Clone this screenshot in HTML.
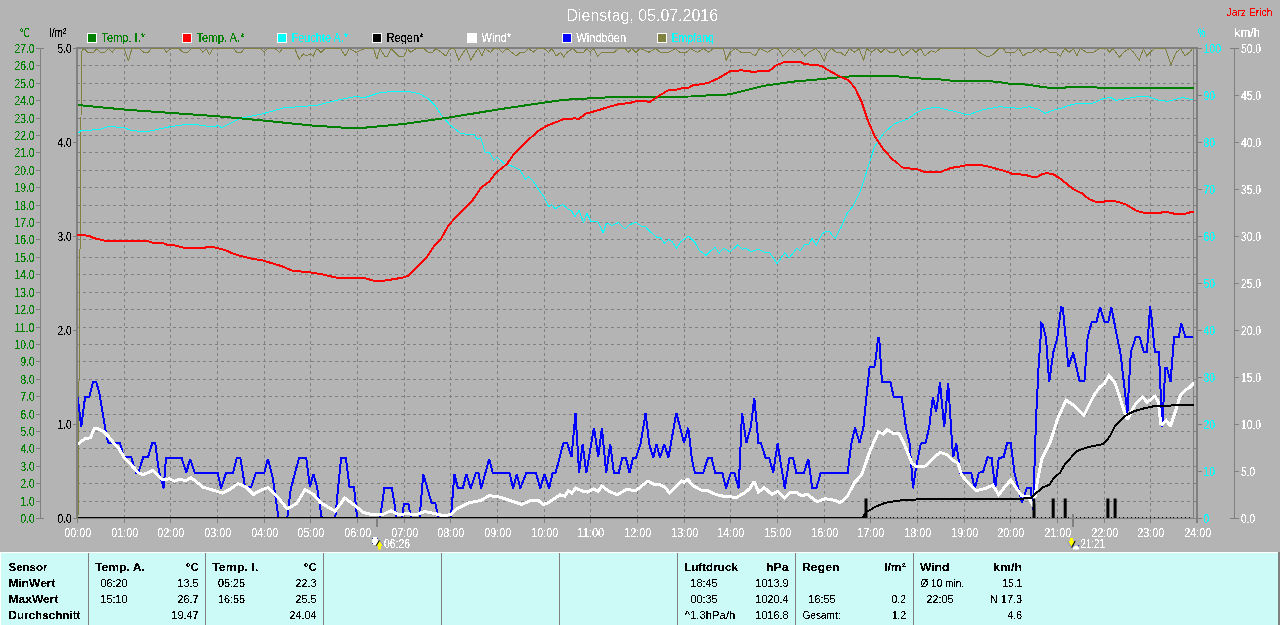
<!DOCTYPE html>
<html><head><meta charset="utf-8"><title>Dienstag, 05.07.2016</title>
<style>
html,body{margin:0;padding:0;background:#b4b4b4;}
body{width:1280px;height:625px;overflow:hidden;}
svg{display:block;font-family:'Liberation Sans', Arial, sans-serif;}
</style></head>
<body>
<svg width="1280" height="625" viewBox="0 0 1280 625">
<rect x="0" y="0" width="1280" height="625" fill="#b4b4b4"/>
<clipPath id="legclip"><rect x="0" y="0" width="1280" height="44"/></clipPath>
<path d="M78 501.5H1196 M78 483.5H1196 M78 466.5H1196 M78 448.5H1196 M78 431.5H1196 M78 414.5H1196 M78 396.5H1196 M78 379.5H1196 M78 361.5H1196 M78 344.5H1196 M78 327.5H1196 M78 309.5H1196 M78 292.5H1196 M78 274.5H1196 M78 257.5H1196 M78 239.5H1196 M78 222.5H1196 M78 205.5H1196 M78 187.5H1196 M78 170.5H1196 M78 152.5H1196 M78 135.5H1196 M78 118.5H1196 M78 100.5H1196 M78 83.5H1196 M78 65.5H1196" stroke="#808080" stroke-width="1" stroke-dasharray="3 3" stroke-dashoffset="1" fill="none"/>
<path d="M124.5 48V517 M170.5 48V517 M217.5 48V517 M264.5 48V517 M310.5 48V517 M357.5 48V517 M404.5 48V517 M450.5 48V517 M497.5 48V517 M544.5 48V517 M590.5 48V517 M637.5 48V517 M684.5 48V517 M730.5 48V517 M777.5 48V517 M824.5 48V517 M870.5 48V517 M917.5 48V517 M964.5 48V517 M1010.5 48V517 M1057.5 48V517 M1104.5 48V517 M1150.5 48V517" stroke="#808080" stroke-width="1" stroke-dasharray="3 3" stroke-dashoffset="1" fill="none"/>
<path d="M77.5 519V523 M124.5 519V523 M170.5 519V523 M217.5 519V523 M264.5 519V523 M310.5 519V523 M357.5 519V523 M404.5 519V523 M450.5 519V523 M497.5 519V523 M544.5 519V523 M590.5 519V523 M637.5 519V523 M684.5 519V523 M730.5 519V523 M777.5 519V523 M824.5 519V523 M870.5 519V523 M917.5 519V523 M964.5 519V523 M1010.5 519V523 M1057.5 519V523 M1104.5 519V523 M1150.5 519V523" stroke="#808080" stroke-width="1" fill="none"/>
<rect x="76" y="47" width="1122" height="2" fill="#808080"/>
<rect x="76" y="47" width="2" height="472" fill="#808080"/>
<rect x="1193" y="48" width="1" height="470" fill="#808080"/>
<rect x="1196" y="47" width="2" height="476" fill="#808080"/>
<polyline points="78.0,518.0 81.5,52.0 83.7,48.5 88.0,52.3 93.5,52.3 96.8,48.5 100.1,52.3 104.4,52.3 108.8,48.5 112.1,52.3 115.4,48.5 124.1,48.5 128.5,61.1 131.8,48.5 139.4,48.5 143.8,52.3 148.2,52.3 151.5,48.5 163.5,48.5 166.8,52.3 170.1,48.5 178.8,48.5 183.2,52.3 187.6,52.3 191.9,48.5 199.6,48.5 202.9,52.3 206.2,48.5 209.5,54.9 212.7,48.5 233.5,48.5 236.8,52.3 241.2,52.3 244.5,48.5 260.9,48.5 264.1,52.3 267.4,48.5 275.1,48.5 279.5,52.3 282.7,48.5 294.8,48.5 299.1,59.3 303.5,53.8 306.8,56.0 310.1,53.8 313.4,56.0 316.6,48.5 321.0,52.3 325.4,48.5 340.7,48.5 345.1,56.0 349.5,48.5 356.0,52.3 364.8,48.5 373.5,48.5 376.8,59.3 380.1,48.5 384.4,56.0 387.7,56.0 391.0,48.5 398.7,56.0 404.1,56.0 407.4,48.5 410.7,52.3 416.2,48.5 423.8,48.5 428.2,52.3 432.6,52.3 435.9,48.5 441.3,52.3 445.7,56.0 450.1,48.5 454.4,48.5 458.8,60.4 463.2,52.3 466.5,48.5 470.9,60.4 475.2,52.3 478.5,48.5 481.8,56.0 485.1,48.5 490.5,52.3 493.8,48.5 498.2,48.5 502.6,52.3 507.0,48.5 511.3,52.3 516.8,56.0 520.1,52.3 524.5,52.3 528.8,48.5 533.2,52.3 537.6,48.5 544.1,48.5 548.5,52.3 551.8,48.5 556.2,56.0 560.6,52.3 563.8,57.1 567.1,52.3 572.6,48.5 577.0,52.3 583.5,52.3 586.8,48.5 590.1,52.3 593.4,48.5 597.7,56.0 602.1,52.3 614.1,52.3 618.5,48.5 625.1,48.5 628.4,52.3 631.7,48.5 636.0,52.3 640.4,48.5 649.1,52.3 655.7,48.5 660.1,52.3 668.8,52.3 675.4,48.5 679.8,52.3 686.3,52.3 690.7,48.5 697.3,52.3 703.8,48.5 708.2,52.3 713.7,48.5 723.5,48.5 726.1,60.4 730.1,52.3 735.5,48.5 741.0,52.3 749.8,52.3 755.2,56.0 759.6,48.5 767.3,52.3 773.8,48.5 778.2,48.5 782.6,56.0 787.0,52.3 790.2,48.5 794.6,52.3 799.0,48.5 804.5,56.0 808.8,52.3 815.4,48.5 819.8,52.3 824.1,61.1 827.4,52.3 831.8,48.5 836.2,52.3 840.6,52.3 844.9,56.0 849.3,48.5 854.8,52.3 859.1,48.5 863.5,60.4 866.8,48.5 871.2,52.3 876.6,48.5 881.0,52.3 885.4,48.5 889.8,52.3 894.1,52.3 898.5,48.5 902.9,56.0 907.3,52.3 911.7,48.5 916.0,52.3 920.4,48.5 924.8,56.0 931.3,50.6 935.7,52.3 940.1,48.5 975.1,48.5 981.6,53.8 988.2,57.1 992.6,54.9 999.1,48.5 1003.5,48.5 1005.7,52.3 1014.4,52.3 1018.8,48.5 1023.2,56.0 1027.6,52.3 1031.9,52.3 1036.3,48.5 1040.7,52.3 1045.1,48.5 1049.5,52.3 1056.0,52.3 1060.4,56.0 1064.8,48.5 1069.1,52.3 1073.5,48.5 1076.8,56.0 1080.1,48.5 1086.6,52.3 1093.2,52.3 1099.8,48.5 1106.3,48.5 1109.6,52.3 1112.9,48.5 1119.5,57.1 1123.8,52.3 1129.3,48.5 1133.7,52.3 1139.1,60.4 1143.5,48.5 1146.8,56.0 1150.1,52.3 1154.5,48.5 1165.4,48.5 1170.9,64.8 1176.3,52.3 1180.7,48.5 1185.1,56.0 1189.5,52.3 1192.7,48.5" fill="none" stroke="#808040" stroke-width="1" stroke-linejoin="miter" stroke-miterlimit="2" shape-rendering="crispEdges" />
<polyline points="78.0,133.3 80.4,131.0 100.1,129.3 108.8,126.5 124.1,127.6 130.7,130.4 146.0,132.0 167.9,127.1 185.4,124.5 198.5,125.0 213.8,127.0 218.2,125.4 221.5,127.6 240.1,118.4 262.0,114.0 283.8,107.9 316.6,105.3 338.5,99.8 356.0,96.5 364.8,97.6 377.9,93.2 391.0,91.5 408.5,91.5 419.4,93.7 428.2,98.7 434.8,105.3 441.3,115.1 450.1,125.0 461.0,133.7 474.1,134.8 477.4,139.2 480.7,137.6 485.1,152.3 489.4,152.3 493.8,160.0 497.1,157.3 504.8,164.0 513.5,166.6 520.1,170.1 525.5,179.3 528.8,176.7 533.2,181.1 539.8,191.3 544.1,196.8 548.5,206.7 551.8,204.5 555.1,208.8 562.7,204.5 568.2,209.3 571.5,210.4 574.8,216.9 579.1,210.4 583.5,222.6 586.8,213.2 591.2,222.0 597.7,221.3 603.2,232.9 606.5,223.1 612.0,225.3 618.5,222.6 625.1,229.0 629.5,224.8 636.0,222.3 641.5,226.3 645.8,227.0 649.1,230.7 656.8,237.3 660.1,237.3 664.4,243.2 668.8,239.5 672.1,241.7 676.5,248.2 680.8,241.7 688.5,236.2 695.1,242.8 699.4,250.4 706.0,255.4 714.8,247.1 719.1,253.3 723.5,248.2 730.1,251.9 737.7,244.9 742.1,249.3 745.4,248.2 750.9,251.5 758.5,249.3 765.1,252.6 769.5,252.6 777.1,263.5 784.8,252.6 789.1,258.1 796.8,248.2 800.1,251.1 804.5,244.5 808.8,244.5 812.1,238.4 816.5,245.4 822.0,234.0 826.3,231.4 829.6,231.8 835.1,238.4 841.6,226.3 847.1,213.2 852.6,206.7 860.2,191.3 863.5,181.5 869.0,164.0 874.5,146.8 883.2,133.7 894.1,123.9 902.9,120.6 907.3,119.5 916.0,112.9 922.6,109.6 936.8,107.0 944.4,109.2 955.4,111.4 964.1,114.0 970.7,114.0 981.6,110.1 999.1,106.8 1010.1,107.4 1018.8,108.5 1029.8,106.8 1038.5,109.2 1045.1,113.4 1051.6,110.7 1060.4,108.5 1069.1,105.3 1077.9,103.5 1086.6,103.1 1093.2,103.1 1104.1,98.3 1110.7,97.6 1116.2,100.4 1126.0,98.7 1139.1,96.5 1147.9,96.5 1158.8,100.2 1167.6,101.3 1178.5,98.7 1182.9,97.6 1192.7,99.8" fill="none" stroke="#00ffff" stroke-width="1" stroke-linejoin="miter" stroke-miterlimit="2" shape-rendering="crispEdges" />
<polyline points="78.0,105.0 124.6,109.6 170.5,112.9 217.1,116.2 264.1,120.6 310.5,125.4 356.0,128.5 404.6,123.9 450.5,117.3 497.1,109.6 544.1,102.6 563.8,99.8 590.5,98.3 614.0,97.0 636.0,96.8 690.7,96.5 708.2,95.4 725.7,94.8 734.4,93.2 745.4,90.4 762.9,86.0 778.2,83.8 793.5,81.6 811.0,80.1 826.3,78.6 837.3,77.5 852.6,76.2 876.6,76.2 898.5,76.4 905.1,77.3 916.0,77.9 921.5,78.6 935.7,79.0 953.2,80.8 990.4,81.2 1003.5,82.7 1010.1,83.8 1025.4,84.5 1034.1,85.6 1041.8,86.9 1049.4,87.8 1064.8,87.8 1067.0,86.9 1095.4,86.9 1097.6,87.8 1193.8,87.8" fill="none" stroke="#008000" stroke-width="2" stroke-linejoin="miter" stroke-miterlimit="2" shape-rendering="crispEdges" />
<polyline points="77.1,234.7 89.1,235.8 93.5,238.0 104.4,240.6 146.0,240.6 152.6,242.8 163.5,243.2 167.9,245.0 174.4,245.4 183.2,247.6 205.1,247.6 207.3,246.7 216.0,247.6 224.8,250.0 233.5,253.7 240.1,255.9 251.0,258.5 262.0,260.3 272.9,263.5 281.6,266.2 292.6,270.8 310.1,272.3 323.2,274.5 338.5,278.2 349.5,278.2 356.0,277.8 364.8,278.2 373.5,280.6 384.4,280.6 395.4,278.9 404.1,277.3 408.5,275.6 426.0,258.1 434.8,245.0 441.3,238.4 447.9,226.3 454.4,218.7 471.9,201.2 480.7,188.1 489.4,181.5 496.0,172.8 507.0,164.0 513.5,154.5 526.6,141.4 537.6,131.5 546.3,126.0 557.3,121.7 563.8,119.0 574.8,118.4 579.1,118.8 585.7,113.6 596.6,110.7 605.4,107.9 618.5,104.2 629.5,103.1 636.0,101.3 644.8,101.3 650.2,101.8 657.9,96.5 668.8,89.9 677.6,89.5 682.0,88.2 688.5,87.8 692.9,85.1 701.6,84.3 708.2,82.9 719.1,77.9 730.1,71.3 741.0,70.3 749.8,71.3 754.1,72.4 758.5,70.9 769.5,70.7 776.0,65.4 784.8,61.9 800.1,61.9 804.5,64.1 817.6,65.2 822.0,66.3 828.5,70.3 839.5,76.4 848.2,80.1 854.8,87.8 861.3,100.9 867.9,120.6 874.5,135.9 883.2,149.0 892.0,158.9 898.5,164.0 901.8,167.3 907.3,168.4 916.0,168.8 923.7,171.7 941.2,171.7 951.0,167.9 961.9,166.2 968.5,164.7 979.4,164.7 988.2,166.6 1003.5,170.6 1012.3,173.8 1025.4,174.9 1031.9,176.7 1037.4,176.7 1042.9,173.8 1047.3,173.2 1053.8,174.5 1060.4,178.9 1073.5,189.2 1082.3,193.5 1088.8,199.0 1095.4,201.6 1104.1,201.6 1107.4,200.8 1117.3,201.6 1126.0,204.5 1137.0,211.0 1143.5,212.6 1161.0,212.6 1165.4,211.7 1175.2,213.9 1185.1,213.9 1190.6,212.1 1193.8,211.7" fill="none" stroke="#ff0000" stroke-width="2" stroke-linejoin="miter" stroke-miterlimit="2" shape-rendering="crispEdges" />
<clipPath id="pc"><rect x="78" y="40" width="1116" height="477"/></clipPath>
<g clip-path="url(#pc)">
<polyline points="77.7,397.5 81.3,426.9 85.1,396.9 89.2,396.9 93.0,382.2 96.2,382.2 99.4,393.0 107.1,439.1 108.4,442.9 119.9,442.9 124.0,457.2 131.2,457.2 136.0,472.8 138.4,472.8 143.2,457.2 148.0,457.2 152.3,442.8 155.2,442.8 158.8,470.4 163.6,488.4 166.0,457.9 181.6,457.9 186.4,472.8 190.0,458.9 194.8,472.8 217.6,472.8 221.2,488.4 226.0,472.8 233.1,472.8 236.7,457.9 240.3,457.9 245.1,487.2 251.1,487.2 255.9,472.8 264.3,472.8 267.9,458.9 272.7,477.6 278.7,519.0 287.1,519.0 290.7,489.1 299.1,457.9 306.3,457.9 309.9,487.2 313.5,474.0 317.1,487.2 321.9,519.0 335.1,519.0 341.1,457.9 345.9,457.9 349.5,487.2 354.0,487.2 357.2,519.0 380.0,519.0 384.3,488.4 392.0,488.4 396.8,519.0 401.6,519.0 404.0,503.5 408.3,503.5 411.2,519.0 419.6,519.0 423.2,474.0 431.6,502.8 435.2,502.8 438.8,519.0 450.8,519.0 454.4,474.0 458.0,488.4 462.8,488.4 466.4,474.0 470.7,488.4 476.0,472.8 478.4,472.8 481.2,488.4 489.2,458.9 492.8,472.8 509.5,472.8 513.1,488.4 516.7,474.0 520.3,488.4 526.3,472.8 535.9,472.8 540.3,488.4 544.3,474.0 549.1,488.4 552.7,472.8 555.6,472.8 563.5,442.8 567.1,442.8 571.5,457.2 575.5,412.8 579.1,472.8 582.7,444.0 586.3,472.8 594.0,427.7 598.3,457.2 601.9,427.7 606.2,472.8 610.3,444.0 613.9,472.8 618.7,472.8 622.3,457.9 625.9,457.9 629.5,472.8 633.1,457.9 636.0,457.9 640.8,442.8 645.6,412.8 649.2,444.0 653.3,457.9 656.4,444.0 660.0,457.9 664.3,444.0 668.4,457.9 676.3,412.8 684.0,442.8 688.3,427.7 691.7,457.9 694.8,472.8 703.2,472.8 708.0,457.9 711.6,457.9 715.2,472.8 722.4,472.8 726.0,488.4 730.8,472.8 734.4,472.8 738.7,488.4 742.0,412.8 746.4,442.8 750.7,427.7 754.3,397.9 758.4,442.8 760.8,442.8 765.6,457.9 769.2,457.9 773.2,472.8 777.6,443.5 784.8,488.4 789.5,457.9 793.1,457.9 796.3,472.8 803.9,472.8 808.3,458.9 812.3,488.4 816.4,488.4 820.7,472.8 847.6,472.8 851.5,442.8 855.0,427.7 859.6,442.8 863.4,427.7 866.4,396.8 869.6,367.2 874.4,366.7 876.0,356.8 878.1,337.6 879.2,337.6 880.0,350.4 881.9,381.6 890.4,381.6 893.6,396.8 901.6,396.8 905.9,427.2 909.5,442.8 913.1,488.4 916.0,468.0 920.8,443.5 925.6,442.8 929.2,427.2 932.8,397.4 936.2,411.8 940.0,382.6 944.2,427.2 948.2,382.6 952.0,442.8 953.2,457.2 956.3,443.5 960.4,472.8 971.2,472.8 974.8,488.4 978.9,472.8 983.2,471.6 987.5,457.2 991.6,457.9 995.2,488.4 998.8,457.9 1003.6,457.2 1007.2,442.8 1010.8,442.8 1014.4,472.8 1022.0,502.8 1026.8,488.4 1030.7,488.4 1033.1,510.0 1036.0,420.0 1038.8,362.2 1040.4,342.2 1041.2,323.0 1042.5,323.8 1046.0,338.2 1049.2,382.2 1053.2,352.6 1057.2,338.2 1061.2,307.0 1062.8,307.8 1068.4,367.0 1073.2,352.6 1079.6,381.4 1084.4,381.4 1087.6,337.4 1091.6,322.5 1096.4,321.9 1100.1,307.0 1104.4,321.9 1108.4,321.9 1111.3,307.0 1117.2,337.4 1120.4,352.6 1127.4,413.1 1130.8,352.6 1135.6,337.4 1139.7,337.4 1143.7,351.8 1146.9,351.8 1150.1,306.5 1151.7,319.0 1154.9,351.8 1158.9,351.8 1162.2,427.1 1165.3,367.8 1167.0,367.8 1170.5,382.2 1174.1,337.4 1178.9,336.9 1181.3,323.0 1185.3,336.9 1193.3,336.9" fill="none" stroke="#0000ff" stroke-width="2" stroke-linejoin="miter" stroke-miterlimit="2" shape-rendering="crispEdges" />
<polyline points="77.7,444.2 85.4,438.4 90.5,437.8 94.3,428.8 96.9,428.2 103.3,431.4 108.4,436.5 114.8,444.2 118.6,448.0 124.0,457.2 138.4,472.8 143.2,474.7 152.8,470.4 162.4,480.0 169.6,478.8 174.4,481.2 179.2,479.5 186.4,480.4 191.2,477.6 203.2,487.2 215.2,490.8 222.4,493.2 229.6,489.6 238.0,483.6 246.3,487.2 253.5,494.4 259.5,490.8 267.9,487.6 277.5,496.8 287.1,508.8 296.7,503.5 305.1,489.6 313.5,494.4 320.7,502.8 335.1,511.2 344.7,498.0 356.0,506.4 363.2,512.4 372.8,514.8 382.4,514.8 390.8,510.7 399.2,514.8 406.4,513.6 416.0,514.8 424.4,511.6 432.8,513.1 442.4,515.5 450.8,514.8 456.8,508.8 468.8,502.8 480.8,500.4 489.2,495.6 500.0,497.2 509.5,500.4 521.5,504.4 531.1,500.4 538.3,500.4 543.1,504.4 547.9,502.8 559.9,494.8 564.7,496.3 568.3,490.8 571.9,493.2 575.5,487.9 581.5,490.8 587.5,492.0 593.5,489.1 598.3,491.5 601.9,486.0 609.1,491.5 617.5,494.8 625.9,489.6 636.0,490.4 640.8,486.7 648.0,481.2 654.0,484.3 660.0,484.8 664.8,487.2 669.6,493.2 674.4,488.4 681.6,481.2 684.0,482.4 687.6,479.5 693.6,486.0 700.8,490.0 708.0,490.8 712.8,493.2 720.0,495.6 727.2,496.8 736.8,497.2 744.0,493.2 750.0,488.4 754.0,481.2 758.4,492.0 764.4,487.6 771.6,494.4 777.6,491.5 784.8,498.0 790.8,492.0 795.5,492.0 801.5,495.6 807.5,494.4 817.1,501.6 825.5,498.7 835.1,500.4 839.9,502.8 847.1,496.8 854.3,482.8 861.5,475.2 869.9,451.2 878.3,432.0 883.1,433.9 887.4,429.6 893.9,433.9 898.7,433.2 904.7,445.2 911.9,463.2 916.0,466.5 925.6,466.0 932.8,458.4 940.0,452.4 947.2,454.8 952.0,459.6 958.0,463.2 961.6,475.2 968.8,483.6 976.0,490.8 985.6,488.4 992.8,485.2 998.8,494.8 1004.8,486.7 1010.8,480.0 1015.6,487.2 1021.6,495.6 1028.8,496.8 1033.6,506.4 1037.2,482.4 1042.0,458.4 1050.4,441.6 1057.6,418.8 1066.0,400.3 1074.3,405.6 1083.9,415.2 1093.5,396.0 1100.0,386.8 1104.5,383.4 1109.0,375.6 1114.6,382.3 1119.0,394.6 1123.5,409.2 1127.4,419.8 1131.4,411.4 1135.8,403.6 1142.6,396.9 1147.0,402.5 1154.9,396.3 1158.2,401.4 1161.0,424.9 1166.1,420.4 1170.5,426.0 1176.1,409.2 1180.6,394.6 1185.1,390.2 1189.6,387.4 1194.1,382.9" fill="none" stroke="#ffffff" stroke-width="3" stroke-linejoin="miter" stroke-miterlimit="2" shape-rendering="crispEdges" />
</g>
<rect x="78" y="518" width="1118" height="1" fill="#808080"/>
<rect x="867" y="517" width="326" height="1" fill="#a0a0a0"/>
<rect x="78" y="517" width="789" height="1" fill="#000"/>
<path d="M870 517.5h1 M874 517.5h1 M878 517.5h1 M882 517.5h1 M886 517.5h1 M890 517.5h1 M893 517.5h1 M897 517.5h1 M901 517.5h1 M905 517.5h1 M909 517.5h1 M913 517.5h1 M917 517.5h1 M921 517.5h1 M925 517.5h1 M928 517.5h1 M932 517.5h1 M936 517.5h1 M940 517.5h1 M944 517.5h1 M948 517.5h1 M952 517.5h1 M956 517.5h1 M960 517.5h1 M963 517.5h1 M967 517.5h1 M971 517.5h1 M975 517.5h1 M979 517.5h1 M983 517.5h1 M987 517.5h1 M991 517.5h1 M995 517.5h1 M998 517.5h1 M1002 517.5h1 M1006 517.5h1 M1010 517.5h1 M1014 517.5h1 M1018 517.5h1 M1022 517.5h1 M1026 517.5h1 M1030 517.5h1 M1033 517.5h1 M1037 517.5h1 M1041 517.5h1 M1045 517.5h1 M1049 517.5h1 M1053 517.5h1 M1057 517.5h1 M1061 517.5h1 M1065 517.5h1 M1068 517.5h1 M1072 517.5h1 M1076 517.5h1 M1080 517.5h1 M1084 517.5h1 M1088 517.5h1 M1092 517.5h1 M1096 517.5h1 M1100 517.5h1 M1103 517.5h1 M1107 517.5h1 M1111 517.5h1 M1115 517.5h1 M1119 517.5h1 M1123 517.5h1 M1127 517.5h1 M1131 517.5h1 M1135 517.5h1 M1138 517.5h1 M1142 517.5h1 M1146 517.5h1 M1150 517.5h1 M1154 517.5h1 M1158 517.5h1 M1162 517.5h1 M1166 517.5h1 M1170 517.5h1 M1173 517.5h1 M1177 517.5h1 M1181 517.5h1 M1185 517.5h1 M1189 517.5h1" stroke="#000" stroke-width="1" fill="none"/>
<polyline points="863.0,517.5 866.0,512.0 870.0,510.0 876.0,506.4 885.5,502.8 895.1,501.1 904.7,499.9 916.0,499.5 925.6,499.2 1021.6,498.7 1031.2,498.0 1036.0,493.2 1043.2,487.2 1049.2,484.8 1054.0,477.6 1060.0,472.8 1064.8,464.4 1076.7,451.2 1086.3,447.6 1103.1,444.0 1107.9,439.2 1111.2,433.8 1114.6,426.6 1120.2,420.4 1126.9,414.8 1133.6,411.4 1144.8,408.1 1156.0,405.8 1169.4,405.6 1182.9,404.9 1193.5,404.9" fill="none" stroke="#000000" stroke-width="2" stroke-linejoin="miter" stroke-miterlimit="2" shape-rendering="crispEdges" />
<rect x="864.5" y="498.5" width="3" height="19.5" fill="#000"/>
<rect x="1032.5" y="498.5" width="3" height="19.5" fill="#000"/>
<rect x="1051.7" y="498.5" width="3" height="19.5" fill="#000"/>
<rect x="1063.7" y="498.5" width="3" height="19.5" fill="#000"/>
<rect x="1106.4" y="498.5" width="3" height="19.5" fill="#000"/>
<rect x="1113.6" y="498.5" width="3" height="19.5" fill="#000"/>
<rect x="376" y="519" width="2" height="8" fill="#808080"/>
<rect x="1072" y="514" width="2" height="13" fill="#808080"/>
<path d="M40.5 48V518.5 M36 48.5H44 M36 518.5H44 M1234.5 48V518.5 M1230 48.5H1239 M1230 518.5H1239" stroke="#808080" stroke-width="1" fill="none"/>
<path d="M36 501.5H40 M36 483.5H40 M36 466.5H40 M36 448.5H40 M36 431.5H40 M36 414.5H40 M36 396.5H40 M36 379.5H40 M36 361.5H40 M36 344.5H40 M36 327.5H40 M36 309.5H40 M36 292.5H40 M36 274.5H40 M36 257.5H40 M36 239.5H40 M36 222.5H40 M36 205.5H40 M36 187.5H40 M36 170.5H40 M36 152.5H40 M36 135.5H40 M36 118.5H40 M36 100.5H40 M36 83.5H40 M36 65.5H40 M73 518.5H76 M73 424.5H76 M73 330.5H76 M73 236.5H76 M73 142.5H76 M73 48.5H76 M1198 518.5H1202 M1198 471.5H1202 M1235 471.5H1239 M1198 424.5H1202 M1235 424.5H1239 M1198 377.5H1202 M1235 377.5H1239 M1198 330.5H1202 M1235 330.5H1239 M1198 283.5H1202 M1235 283.5H1239 M1198 236.5H1202 M1235 236.5H1239 M1198 189.5H1202 M1235 189.5H1239 M1198 142.5H1202 M1235 142.5H1239 M1198 95.5H1202 M1235 95.5H1239 M1198 48.5H1202" stroke="#808080" stroke-width="1" fill="none"/>
<text x="566.5" y="21" fill="#ffffff" font-size="16.5" textLength="151.5" lengthAdjust="spacingAndGlyphs" filter="url(#crisp2)">Dienstag, 05.07.2016</text>
<rect x="87.5" y="33.5" width="9" height="9" fill="#008000" stroke="#fff" stroke-width="1"/>
<rect x="182.5" y="33.5" width="9" height="9" fill="#ff0000" stroke="#fff" stroke-width="1"/>
<rect x="277.5" y="33.5" width="9" height="9" fill="#00ffff" stroke="#fff" stroke-width="1"/>
<rect x="372.5" y="33.5" width="9" height="9" fill="#000000" stroke="#fff" stroke-width="1"/>
<rect x="467.5" y="33.5" width="9" height="9" fill="#ffffff" stroke="#fff" stroke-width="1"/>
<rect x="562.5" y="33.5" width="9" height="9" fill="#0000ff" stroke="#fff" stroke-width="1"/>
<rect x="657.5" y="33.5" width="9" height="9" fill="#808040" stroke="#fff" stroke-width="1"/>
<g shape-rendering="crispEdges">
<rect x="372" y="538" width="6" height="6" fill="#fff"/>
<rect x="373" y="537" width="4" height="1" fill="#fff"/><rect x="373" y="544" width="4" height="1" fill="#fff"/>
<rect x="372" y="538" width="1" height="1" fill="#2030a0"/>
<rect x="377" y="538" width="1" height="1" fill="#2030a0"/>
<rect x="372" y="543" width="1" height="1" fill="#2030a0"/>
<rect x="377" y="543" width="1" height="1" fill="#2030a0"/>
</g>
<path d="M379.5 540 L383 546 L381 546 L381 549.5 L378 549.5 L378 546 L376 546 Z" fill="#ffff00"/>
<path d="M379.5 540.2 L376.2 545.8" stroke="#000" stroke-width="1.1"/>
<path d="M380 540.5 L383.5 546" stroke="#7080e0" stroke-width="0.8"/>
<path d="M1070 538 L1073 538 L1073 541 L1075 541 L1071.5 547.5 L1068 541 L1070 541 Z" fill="#ffff00"/>
<path d="M1075.2 541 L1071.6 547.5" stroke="#000" stroke-width="1.1"/>
<path d="M1067.6 541 L1071 547" stroke="#7080e0" stroke-width="0.8"/>
<path d="M1073 549.5 L1073 547.5 Q1076 544 1079 547.5 L1079 549.5 Z" fill="#fff"/>
<rect x="1072.5" y="545" width="1.2" height="1.2" fill="#2030a0"/><rect x="1078" y="545" width="1.2" height="1.2" fill="#2030a0"/>
<rect x="0" y="552" width="1280" height="73" fill="#ccfaf6"/>
<rect x="0" y="552" width="1278" height="1" fill="#ffffff"/>
<rect x="0" y="552" width="1" height="73" fill="#ffffff"/>
<rect x="1278" y="552" width="2" height="73" fill="#808080"/>
<rect x="88" y="553" width="1" height="72" fill="#808080"/>
<rect x="205" y="553" width="1" height="72" fill="#808080"/>
<rect x="323" y="553" width="1" height="72" fill="#808080"/>
<rect x="441" y="553" width="1" height="72" fill="#808080"/>
<rect x="559" y="553" width="1" height="72" fill="#808080"/>
<rect x="677" y="553" width="1" height="72" fill="#808080"/>
<rect x="795" y="553" width="1" height="72" fill="#808080"/>
<rect x="913" y="553" width="1" height="72" fill="#808080"/>
<defs><filter id="crisp" x="0" y="0" width="1280" height="625" filterUnits="userSpaceOnUse"><feComponentTransfer><feFuncA type="discrete" tableValues="0 0 1 1 1"/></feComponentTransfer></filter><filter id="crisp2" x="0" y="0" width="1280" height="625" filterUnits="userSpaceOnUse"><feComponentTransfer><feFuncA type="discrete" tableValues="0 0 0 0 0 0 1 1 1 1"/></feComponentTransfer></filter></defs>
<g filter="url(#crisp)"><text x="34.5" y="523" fill="#008000" font-size="12" text-anchor="end" textLength="14" lengthAdjust="spacingAndGlyphs">0.0</text>
<text x="34.5" y="506" fill="#008000" font-size="12" text-anchor="end" textLength="14" lengthAdjust="spacingAndGlyphs">1.0</text>
<text x="34.5" y="488" fill="#008000" font-size="12" text-anchor="end" textLength="14" lengthAdjust="spacingAndGlyphs">2.0</text>
<text x="34.5" y="471" fill="#008000" font-size="12" text-anchor="end" textLength="14" lengthAdjust="spacingAndGlyphs">3.0</text>
<text x="34.5" y="453" fill="#008000" font-size="12" text-anchor="end" textLength="14" lengthAdjust="spacingAndGlyphs">4.0</text>
<text x="34.5" y="436" fill="#008000" font-size="12" text-anchor="end" textLength="14" lengthAdjust="spacingAndGlyphs">5.0</text>
<text x="34.5" y="419" fill="#008000" font-size="12" text-anchor="end" textLength="14" lengthAdjust="spacingAndGlyphs">6.0</text>
<text x="34.5" y="401" fill="#008000" font-size="12" text-anchor="end" textLength="14" lengthAdjust="spacingAndGlyphs">7.0</text>
<text x="34.5" y="384" fill="#008000" font-size="12" text-anchor="end" textLength="14" lengthAdjust="spacingAndGlyphs">8.0</text>
<text x="34.5" y="366" fill="#008000" font-size="12" text-anchor="end" textLength="14" lengthAdjust="spacingAndGlyphs">9.0</text>
<text x="34.5" y="349" fill="#008000" font-size="12" text-anchor="end" textLength="20" lengthAdjust="spacingAndGlyphs">10.0</text>
<text x="34.5" y="332" fill="#008000" font-size="12" text-anchor="end" textLength="20" lengthAdjust="spacingAndGlyphs">11.0</text>
<text x="34.5" y="314" fill="#008000" font-size="12" text-anchor="end" textLength="20" lengthAdjust="spacingAndGlyphs">12.0</text>
<text x="34.5" y="297" fill="#008000" font-size="12" text-anchor="end" textLength="20" lengthAdjust="spacingAndGlyphs">13.0</text>
<text x="34.5" y="279" fill="#008000" font-size="12" text-anchor="end" textLength="20" lengthAdjust="spacingAndGlyphs">14.0</text>
<text x="34.5" y="262" fill="#008000" font-size="12" text-anchor="end" textLength="20" lengthAdjust="spacingAndGlyphs">15.0</text>
<text x="34.5" y="244" fill="#008000" font-size="12" text-anchor="end" textLength="20" lengthAdjust="spacingAndGlyphs">16.0</text>
<text x="34.5" y="227" fill="#008000" font-size="12" text-anchor="end" textLength="20" lengthAdjust="spacingAndGlyphs">17.0</text>
<text x="34.5" y="210" fill="#008000" font-size="12" text-anchor="end" textLength="20" lengthAdjust="spacingAndGlyphs">18.0</text>
<text x="34.5" y="192" fill="#008000" font-size="12" text-anchor="end" textLength="20" lengthAdjust="spacingAndGlyphs">19.0</text>
<text x="34.5" y="175" fill="#008000" font-size="12" text-anchor="end" textLength="20" lengthAdjust="spacingAndGlyphs">20.0</text>
<text x="34.5" y="157" fill="#008000" font-size="12" text-anchor="end" textLength="20" lengthAdjust="spacingAndGlyphs">21.0</text>
<text x="34.5" y="140" fill="#008000" font-size="12" text-anchor="end" textLength="20" lengthAdjust="spacingAndGlyphs">22.0</text>
<text x="34.5" y="123" fill="#008000" font-size="12" text-anchor="end" textLength="20" lengthAdjust="spacingAndGlyphs">23.0</text>
<text x="34.5" y="105" fill="#008000" font-size="12" text-anchor="end" textLength="20" lengthAdjust="spacingAndGlyphs">24.0</text>
<text x="34.5" y="88" fill="#008000" font-size="12" text-anchor="end" textLength="20" lengthAdjust="spacingAndGlyphs">25.0</text>
<text x="34.5" y="70" fill="#008000" font-size="12" text-anchor="end" textLength="20" lengthAdjust="spacingAndGlyphs">26.0</text>
<text x="34.5" y="53" fill="#008000" font-size="12" text-anchor="end" textLength="20" lengthAdjust="spacingAndGlyphs">27.0</text>
<text x="71.5" y="523" fill="#000000" font-size="12" text-anchor="end" textLength="14" lengthAdjust="spacingAndGlyphs">0.0</text>
<text x="71.5" y="429" fill="#000000" font-size="12" text-anchor="end" textLength="14" lengthAdjust="spacingAndGlyphs">1.0</text>
<text x="71.5" y="335" fill="#000000" font-size="12" text-anchor="end" textLength="14" lengthAdjust="spacingAndGlyphs">2.0</text>
<text x="71.5" y="241" fill="#000000" font-size="12" text-anchor="end" textLength="14" lengthAdjust="spacingAndGlyphs">3.0</text>
<text x="71.5" y="147" fill="#000000" font-size="12" text-anchor="end" textLength="14" lengthAdjust="spacingAndGlyphs">4.0</text>
<text x="71.5" y="53" fill="#000000" font-size="12" text-anchor="end" textLength="14" lengthAdjust="spacingAndGlyphs">5.0</text>
<text x="1203.5" y="523" fill="#00ffff" font-size="12" text-anchor="start" textLength="5.5" lengthAdjust="spacingAndGlyphs">0</text>
<text x="1241" y="523" fill="#ffffff" font-size="12" text-anchor="start" textLength="14" lengthAdjust="spacingAndGlyphs">0.0</text>
<text x="1203.5" y="476" fill="#00ffff" font-size="12" text-anchor="start" textLength="11.5" lengthAdjust="spacingAndGlyphs">10</text>
<text x="1241" y="476" fill="#ffffff" font-size="12" text-anchor="start" textLength="14" lengthAdjust="spacingAndGlyphs">5.0</text>
<text x="1203.5" y="429" fill="#00ffff" font-size="12" text-anchor="start" textLength="11.5" lengthAdjust="spacingAndGlyphs">20</text>
<text x="1241" y="429" fill="#ffffff" font-size="12" text-anchor="start" textLength="20" lengthAdjust="spacingAndGlyphs">10.0</text>
<text x="1203.5" y="382" fill="#00ffff" font-size="12" text-anchor="start" textLength="11.5" lengthAdjust="spacingAndGlyphs">30</text>
<text x="1241" y="382" fill="#ffffff" font-size="12" text-anchor="start" textLength="20" lengthAdjust="spacingAndGlyphs">15.0</text>
<text x="1203.5" y="335" fill="#00ffff" font-size="12" text-anchor="start" textLength="11.5" lengthAdjust="spacingAndGlyphs">40</text>
<text x="1241" y="335" fill="#ffffff" font-size="12" text-anchor="start" textLength="20" lengthAdjust="spacingAndGlyphs">20.0</text>
<text x="1203.5" y="288" fill="#00ffff" font-size="12" text-anchor="start" textLength="11.5" lengthAdjust="spacingAndGlyphs">50</text>
<text x="1241" y="288" fill="#ffffff" font-size="12" text-anchor="start" textLength="20" lengthAdjust="spacingAndGlyphs">25.0</text>
<text x="1203.5" y="241" fill="#00ffff" font-size="12" text-anchor="start" textLength="11.5" lengthAdjust="spacingAndGlyphs">60</text>
<text x="1241" y="241" fill="#ffffff" font-size="12" text-anchor="start" textLength="20" lengthAdjust="spacingAndGlyphs">30.0</text>
<text x="1203.5" y="194" fill="#00ffff" font-size="12" text-anchor="start" textLength="11.5" lengthAdjust="spacingAndGlyphs">70</text>
<text x="1241" y="194" fill="#ffffff" font-size="12" text-anchor="start" textLength="20" lengthAdjust="spacingAndGlyphs">35.0</text>
<text x="1203.5" y="147" fill="#00ffff" font-size="12" text-anchor="start" textLength="11.5" lengthAdjust="spacingAndGlyphs">80</text>
<text x="1241" y="147" fill="#ffffff" font-size="12" text-anchor="start" textLength="20" lengthAdjust="spacingAndGlyphs">40.0</text>
<text x="1203.5" y="100" fill="#00ffff" font-size="12" text-anchor="start" textLength="11.5" lengthAdjust="spacingAndGlyphs">90</text>
<text x="1241" y="100" fill="#ffffff" font-size="12" text-anchor="start" textLength="20" lengthAdjust="spacingAndGlyphs">45.0</text>
<text x="1203.5" y="53" fill="#00ffff" font-size="12" text-anchor="start" textLength="17.5" lengthAdjust="spacingAndGlyphs">100</text>
<text x="1241" y="53" fill="#ffffff" font-size="12" text-anchor="start" textLength="20" lengthAdjust="spacingAndGlyphs">50.0</text>
<text x="20" y="37" fill="#008000" font-size="12" text-anchor="start" textLength="10" lengthAdjust="spacingAndGlyphs">°C</text>
<text x="49.5" y="37" fill="#000000" font-size="12" text-anchor="start" textLength="17" lengthAdjust="spacingAndGlyphs">l/m²</text>
<text x="1198" y="37" fill="#00ffff" font-size="12" text-anchor="start" textLength="7.5" lengthAdjust="spacingAndGlyphs">%</text>
<text x="1234.5" y="37" fill="#ffffff" font-size="12" text-anchor="start" textLength="25.5" lengthAdjust="spacingAndGlyphs">km/h</text>
<text x="77.8" y="537" fill="#ffffff" font-size="12" text-anchor="middle" textLength="27" lengthAdjust="spacingAndGlyphs">00:00</text>
<text x="124.8" y="537" fill="#ffffff" font-size="12" text-anchor="middle" textLength="27" lengthAdjust="spacingAndGlyphs">01:00</text>
<text x="170.8" y="537" fill="#ffffff" font-size="12" text-anchor="middle" textLength="27" lengthAdjust="spacingAndGlyphs">02:00</text>
<text x="217.8" y="537" fill="#ffffff" font-size="12" text-anchor="middle" textLength="27" lengthAdjust="spacingAndGlyphs">03:00</text>
<text x="264.8" y="537" fill="#ffffff" font-size="12" text-anchor="middle" textLength="27" lengthAdjust="spacingAndGlyphs">04:00</text>
<text x="310.8" y="537" fill="#ffffff" font-size="12" text-anchor="middle" textLength="27" lengthAdjust="spacingAndGlyphs">05:00</text>
<text x="357.8" y="537" fill="#ffffff" font-size="12" text-anchor="middle" textLength="27" lengthAdjust="spacingAndGlyphs">06:00</text>
<text x="404.8" y="537" fill="#ffffff" font-size="12" text-anchor="middle" textLength="27" lengthAdjust="spacingAndGlyphs">07:00</text>
<text x="450.8" y="537" fill="#ffffff" font-size="12" text-anchor="middle" textLength="27" lengthAdjust="spacingAndGlyphs">08:00</text>
<text x="497.8" y="537" fill="#ffffff" font-size="12" text-anchor="middle" textLength="27" lengthAdjust="spacingAndGlyphs">09:00</text>
<text x="544.8" y="537" fill="#ffffff" font-size="12" text-anchor="middle" textLength="27" lengthAdjust="spacingAndGlyphs">10:00</text>
<text x="590.8" y="537" fill="#ffffff" font-size="12" text-anchor="middle" textLength="27" lengthAdjust="spacingAndGlyphs">11:00</text>
<text x="637.8" y="537" fill="#ffffff" font-size="12" text-anchor="middle" textLength="27" lengthAdjust="spacingAndGlyphs">12:00</text>
<text x="684.8" y="537" fill="#ffffff" font-size="12" text-anchor="middle" textLength="27" lengthAdjust="spacingAndGlyphs">13:00</text>
<text x="730.8" y="537" fill="#ffffff" font-size="12" text-anchor="middle" textLength="27" lengthAdjust="spacingAndGlyphs">14:00</text>
<text x="777.8" y="537" fill="#ffffff" font-size="12" text-anchor="middle" textLength="27" lengthAdjust="spacingAndGlyphs">15:00</text>
<text x="824.8" y="537" fill="#ffffff" font-size="12" text-anchor="middle" textLength="27" lengthAdjust="spacingAndGlyphs">16:00</text>
<text x="870.8" y="537" fill="#ffffff" font-size="12" text-anchor="middle" textLength="27" lengthAdjust="spacingAndGlyphs">17:00</text>
<text x="917.8" y="537" fill="#ffffff" font-size="12" text-anchor="middle" textLength="27" lengthAdjust="spacingAndGlyphs">18:00</text>
<text x="964.8" y="537" fill="#ffffff" font-size="12" text-anchor="middle" textLength="27" lengthAdjust="spacingAndGlyphs">19:00</text>
<text x="1010.8" y="537" fill="#ffffff" font-size="12" text-anchor="middle" textLength="27" lengthAdjust="spacingAndGlyphs">20:00</text>
<text x="1057.8" y="537" fill="#ffffff" font-size="12" text-anchor="middle" textLength="27" lengthAdjust="spacingAndGlyphs">21:00</text>
<text x="1104.8" y="537" fill="#ffffff" font-size="12" text-anchor="middle" textLength="27" lengthAdjust="spacingAndGlyphs">22:00</text>
<text x="1150.8" y="537" fill="#ffffff" font-size="12" text-anchor="middle" textLength="27" lengthAdjust="spacingAndGlyphs">23:00</text>
<text x="1197.8" y="537" fill="#ffffff" font-size="12" text-anchor="middle" textLength="27" lengthAdjust="spacingAndGlyphs">24:00</text>
<text x="384" y="548" fill="#ffffff" font-size="12" text-anchor="start" textLength="26" lengthAdjust="spacingAndGlyphs">06:26</text>
<text x="1080.5" y="548" fill="#ffffff" font-size="12" text-anchor="start" textLength="24.5" lengthAdjust="spacingAndGlyphs">21:21</text>
<text x="1226.5" y="16" fill="#ff0000" font-size="11.5" text-anchor="start" textLength="46" lengthAdjust="spacingAndGlyphs">Jarz Erich</text>
<text x="101.5" y="42" fill="#008000" font-size="12" text-anchor="start" textLength="43.5" lengthAdjust="spacingAndGlyphs" clip-path="url(#legclip)">Temp. I.*</text>
<text x="196.5" y="42" fill="#008000" font-size="12" text-anchor="start" textLength="48" lengthAdjust="spacingAndGlyphs" clip-path="url(#legclip)">Temp. A.*</text>
<text x="291.5" y="42" fill="#00ffff" font-size="12" text-anchor="start" textLength="56.5" lengthAdjust="spacingAndGlyphs" clip-path="url(#legclip)">Feuchte A.*</text>
<text x="386.5" y="42" fill="#000000" font-size="12" text-anchor="start" textLength="37" lengthAdjust="spacingAndGlyphs" clip-path="url(#legclip)">Regen*</text>
<text x="481.5" y="42" fill="#ffffff" font-size="12" text-anchor="start" textLength="29.5" lengthAdjust="spacingAndGlyphs" clip-path="url(#legclip)">Wind*</text>
<text x="576.5" y="42" fill="#ffffff" font-size="12" text-anchor="start" textLength="49.5" lengthAdjust="spacingAndGlyphs" clip-path="url(#legclip)">Windböen</text>
<text x="671.5" y="42" fill="#00ffff" font-size="12" text-anchor="start" textLength="42.5" lengthAdjust="spacingAndGlyphs" clip-path="url(#legclip)">Empfang</text>
<text x="8.5" y="571" fill="#000" font-size="11" text-anchor="start" textLength="39" lengthAdjust="spacingAndGlyphs" font-weight="bold">Sensor</text>
<text x="8.5" y="587" fill="#000" font-size="11" text-anchor="start" textLength="47" lengthAdjust="spacingAndGlyphs" font-weight="bold">MinWert</text>
<text x="8.5" y="603" fill="#000" font-size="11" text-anchor="start" textLength="50" lengthAdjust="spacingAndGlyphs" font-weight="bold">MaxWert</text>
<text x="8.5" y="619" fill="#000" font-size="11" text-anchor="start" textLength="72" lengthAdjust="spacingAndGlyphs" font-weight="bold">Durchschnitt</text>
<text x="95" y="571" fill="#000" font-size="11" text-anchor="start" textLength="50" lengthAdjust="spacingAndGlyphs" font-weight="bold">Temp. A.</text>
<text x="198.5" y="571" fill="#000" font-size="11" text-anchor="end" textLength="12.5" lengthAdjust="spacingAndGlyphs" font-weight="bold">°C</text>
<text x="100.5" y="587" fill="#000" font-size="11" text-anchor="start" textLength="27" lengthAdjust="spacingAndGlyphs">06:20</text>
<text x="198.5" y="587" fill="#000" font-size="11" text-anchor="end" textLength="21" lengthAdjust="spacingAndGlyphs">13.5</text>
<text x="100.5" y="603" fill="#000" font-size="11" text-anchor="start" textLength="27" lengthAdjust="spacingAndGlyphs">15:10</text>
<text x="198.5" y="603" fill="#000" font-size="11" text-anchor="end" textLength="21" lengthAdjust="spacingAndGlyphs">26.7</text>
<text x="198.5" y="619" fill="#000" font-size="11" text-anchor="end" textLength="27" lengthAdjust="spacingAndGlyphs">19.47</text>
<text x="212" y="571" fill="#000" font-size="11" text-anchor="start" textLength="46.5" lengthAdjust="spacingAndGlyphs" font-weight="bold">Temp. I.</text>
<text x="316.5" y="571" fill="#000" font-size="11" text-anchor="end" textLength="12.5" lengthAdjust="spacingAndGlyphs" font-weight="bold">°C</text>
<text x="218" y="587" fill="#000" font-size="11" text-anchor="start" textLength="27" lengthAdjust="spacingAndGlyphs">05:25</text>
<text x="316.5" y="587" fill="#000" font-size="11" text-anchor="end" textLength="21" lengthAdjust="spacingAndGlyphs">22.3</text>
<text x="218" y="603" fill="#000" font-size="11" text-anchor="start" textLength="27" lengthAdjust="spacingAndGlyphs">16:55</text>
<text x="316.5" y="603" fill="#000" font-size="11" text-anchor="end" textLength="21" lengthAdjust="spacingAndGlyphs">25.5</text>
<text x="316.5" y="619" fill="#000" font-size="11" text-anchor="end" textLength="27" lengthAdjust="spacingAndGlyphs">24.04</text>
<text x="684" y="571" fill="#000" font-size="11" text-anchor="start" textLength="54" lengthAdjust="spacingAndGlyphs" font-weight="bold">Luftdruck</text>
<text x="788.5" y="571" fill="#000" font-size="11" text-anchor="end" textLength="22" lengthAdjust="spacingAndGlyphs" font-weight="bold">hPa</text>
<text x="690.5" y="587" fill="#000" font-size="11" text-anchor="start" textLength="27" lengthAdjust="spacingAndGlyphs">18:45</text>
<text x="788.5" y="587" fill="#000" font-size="11" text-anchor="end" textLength="33" lengthAdjust="spacingAndGlyphs">1013.9</text>
<text x="690.5" y="603" fill="#000" font-size="11" text-anchor="start" textLength="27" lengthAdjust="spacingAndGlyphs">00:35</text>
<text x="788.5" y="603" fill="#000" font-size="11" text-anchor="end" textLength="33" lengthAdjust="spacingAndGlyphs">1020.4</text>
<text x="684.8" y="619" fill="#000" font-size="11" text-anchor="start" textLength="50.5" lengthAdjust="spacingAndGlyphs">^1.3hPa/h</text>
<text x="788.5" y="619" fill="#000" font-size="11" text-anchor="end" textLength="33" lengthAdjust="spacingAndGlyphs">1016.8</text>
<text x="802" y="571" fill="#000" font-size="11" text-anchor="start" textLength="37.5" lengthAdjust="spacingAndGlyphs" font-weight="bold">Regen</text>
<text x="906.0" y="571" fill="#000" font-size="11" text-anchor="end" textLength="22" lengthAdjust="spacingAndGlyphs" font-weight="bold">l/m²</text>
<text x="808.5" y="603" fill="#000" font-size="11" text-anchor="start" textLength="27" lengthAdjust="spacingAndGlyphs">16:55</text>
<text x="906.0" y="603" fill="#000" font-size="11" text-anchor="end" textLength="14.5" lengthAdjust="spacingAndGlyphs">0.2</text>
<text x="802.5" y="619" fill="#000" font-size="11" text-anchor="start" textLength="38" lengthAdjust="spacingAndGlyphs">Gesamt:</text>
<text x="906.0" y="619" fill="#000" font-size="11" text-anchor="end" textLength="14" lengthAdjust="spacingAndGlyphs">1.2</text>
<text x="920" y="571" fill="#000" font-size="11" text-anchor="start" textLength="29.5" lengthAdjust="spacingAndGlyphs" font-weight="bold">Wind</text>
<text x="1022.0" y="571" fill="#000" font-size="11" text-anchor="end" textLength="29" lengthAdjust="spacingAndGlyphs" font-weight="bold">km/h</text>
<text x="920.5" y="587" fill="#000" font-size="11" text-anchor="start" textLength="43.5" lengthAdjust="spacingAndGlyphs">Ø 10 min.</text>
<text x="1022.0" y="587" fill="#000" font-size="11" text-anchor="end" textLength="19.5" lengthAdjust="spacingAndGlyphs">15.1</text>
<text x="926.5" y="603" fill="#000" font-size="11" text-anchor="start" textLength="27" lengthAdjust="spacingAndGlyphs">22:05</text>
<text x="1022.0" y="603" fill="#000" font-size="11" text-anchor="end" textLength="32" lengthAdjust="spacingAndGlyphs">N 17.3</text>
<text x="1022.0" y="619" fill="#000" font-size="11" text-anchor="end" textLength="14.5" lengthAdjust="spacingAndGlyphs">4.6</text></g>
</svg>
</body></html>
